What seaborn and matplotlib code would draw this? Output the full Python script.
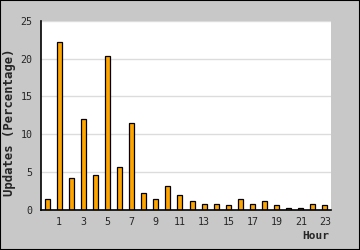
import matplotlib
matplotlib.use("Agg")
import matplotlib.pyplot as plt
import seaborn as sns
import pandas as pd
from matplotlib.ticker import MultipleLocator, FixedLocator
from matplotlib.patches import Rectangle

hours = list(range(24))
updates = [1.45, 22.25, 4.2, 12.0, 4.65, 20.3, 5.7, 11.5, 2.3, 1.5, 3.2, 2.0,
           1.2, 0.85, 0.85, 0.6, 1.5, 0.85, 1.2, 0.6, 0.3, 0.3, 0.85, 0.6]
tick_hours = [1, 3, 5, 7, 9, 11, 13, 15, 17, 19, 21, 23]

df = pd.DataFrame({"Hour": hours, "Updates": updates})

sns.set_style("white")
plt.rcParams["font.family"] = ["DejaVu Sans Mono", "DejaVu Sans"]

W, H = 360, 250
fig = plt.figure(figsize=(3.6, 2.5), dpi=100, facecolor="#c8c8c8")
ax = fig.add_axes([41 / W, 1 - 210 / H, (331 - 41) / W, (210 - 20.7) / H])
ax.set_facecolor("white")

sns.barplot(data=df, x="Hour", y="Updates", order=hours, color="#FFA500",
            width=0.42, edgecolor="black", linewidth=0.9, saturation=1,
            errorbar=None, ax=ax)

ax.set_xlim(-0.5, 23.5)
ax.set_ylim(0, 25)

ax.yaxis.set_major_locator(MultipleLocator(5))
ax.yaxis.set_minor_locator(MultipleLocator(1))
ax.grid(axis="y", which="major", color="#dcdcdc", linewidth=1.0)
ax.set_axisbelow(True)

ax.xaxis.set_major_locator(FixedLocator(tick_hours))
ax.set_xticklabels([str(h) for h in tick_hours])
ax.xaxis.set_minor_locator(FixedLocator([h + 0.5 for h in range(-1, 24)]))

ax.tick_params(axis="x", which="major", length=0, pad=5, labelsize=7.2)
ax.tick_params(axis="x", which="minor", length=4.5, width=0.9, direction="in",
               color="black")
ax.tick_params(axis="y", which="major", length=3, width=0.9, direction="in",
               pad=6, labelsize=7.2, color="black")
ax.tick_params(axis="y", which="minor", length=2.5, width=0.9, direction="in",
               color="black")

for s in ["top", "right"]:
    ax.spines[s].set_visible(False)
for s in ["left", "bottom"]:
    ax.spines[s].set_color("black")
    ax.spines[s].set_linewidth(1.2)

ax.set_xlabel("")
ax.set_ylabel("")
fig.text(329 / W, 1 - 236 / H, "Hour", ha="right", va="center",
         fontsize=8, fontweight="bold")
fig.text(9.5 / W, 1 - 122 / H, "Updates (Percentage)", ha="center",
         va="center", rotation=90, fontsize=8.8, fontweight="bold")

fig.patches.append(Rectangle((0, 0), 1, 1, transform=fig.transFigure,
                             fill=False, edgecolor="black", linewidth=1.5))

fig.savefig("out.png", dpi=100, facecolor=fig.get_facecolor())
